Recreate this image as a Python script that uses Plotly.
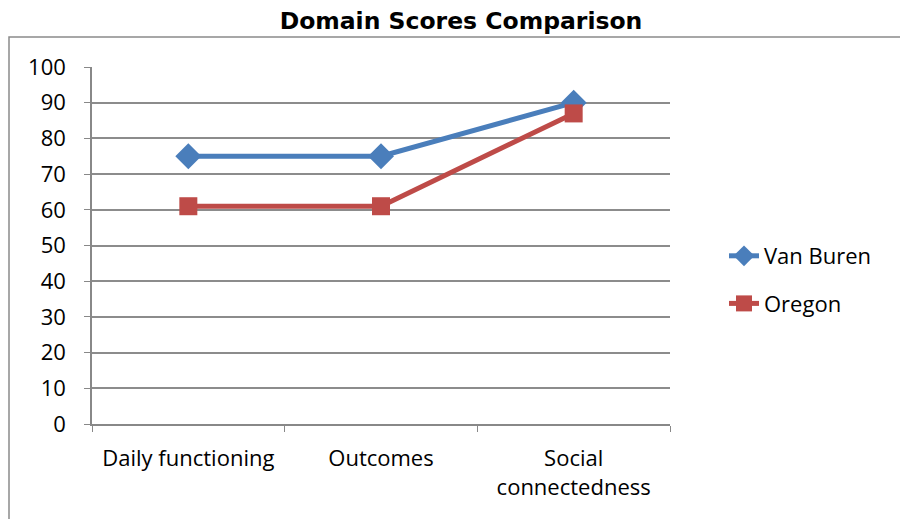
import plotly.graph_objects as go

categories = ["Daily functioning", "Outcomes", "Social<br>connectedness"]
van_buren = [75, 75, 90]
oregon = [61, 61, 87]
y_ticks = [0, 10, 20, 30, 40, 50, 60, 70, 80, 90, 100]

fig = go.Figure()
fig.add_trace(go.Scatter(
    x=categories, y=van_buren, name="Van Buren", mode="lines+markers",
    legendgroup="vb",
    line=dict(color="#4A7EBB", width=5),
    marker=dict(symbol="diamond", size=20, color="#4A7EBB"),
))
fig.add_trace(go.Scatter(
    x=categories, y=oregon, name="Oregon", mode="lines+markers",
    legendgroup="or",
    line=dict(color="#BE4B48", width=5),
    marker=dict(symbol="square", size=18, color="#BE4B48"),
))

L, R, T, B = 92, 670, 67, 424
W, H = 900, 519

fig.update_layout(
    width=W, height=H,
    margin=dict(l=L, r=W - R, t=T, b=H - B, autoexpand=False),
    paper_bgcolor="white", plot_bgcolor="white",
    title=dict(text="<b>Domain Scores Comparison</b>", x=461 / W, xanchor="center",
               y=1 - 21 / H, yanchor="middle",
               font=dict(family="DejaVu Sans", size=23.5, color="black")),
    font=dict(family="Open Sans", size=22, color="black"),
    legend=dict(x=(724 - L) / (R - L), xanchor="left",
                y=(B - 280) / (B - T), yanchor="middle",
                font=dict(size=22, color="black"), tracegroupgap=16),
    showlegend=True,
)

fig.update_xaxes(
    range=[-0.5, 2.5],
    showline=True, linecolor="#888888", linewidth=1.5,
    ticks="outside", ticklen=6, tickcolor="#888888", tickson="boundaries",
    showgrid=False, tickfont=dict(size=22), ticklabelstandoff=14,
)
fig.update_yaxes(
    range=[0, 100], tickvals=y_ticks, showline=True, linecolor="#888888", linewidth=1.5,
    ticks="outside", ticklen=6, tickcolor="#888888",
    showgrid=True, gridcolor="#8c8c8c", gridwidth=1.5, zeroline=False,
    tickfont=dict(size=22), ticklabelstandoff=14,
)

fig.add_shape(type="rect", xref="paper", yref="paper",
              x0=(9 - L) / (R - L), x1=(910 - L) / (R - L),
              y0=(B - 530) / (B - T), y1=(B - 37) / (B - T),
              line=dict(color="#8a8a8a", width=1.5), layer="below")

fig.write_html("out.html", config={"displayModeBar": False},
               post_script="document.body.style.margin='0';document.body.style.padding='0';")
